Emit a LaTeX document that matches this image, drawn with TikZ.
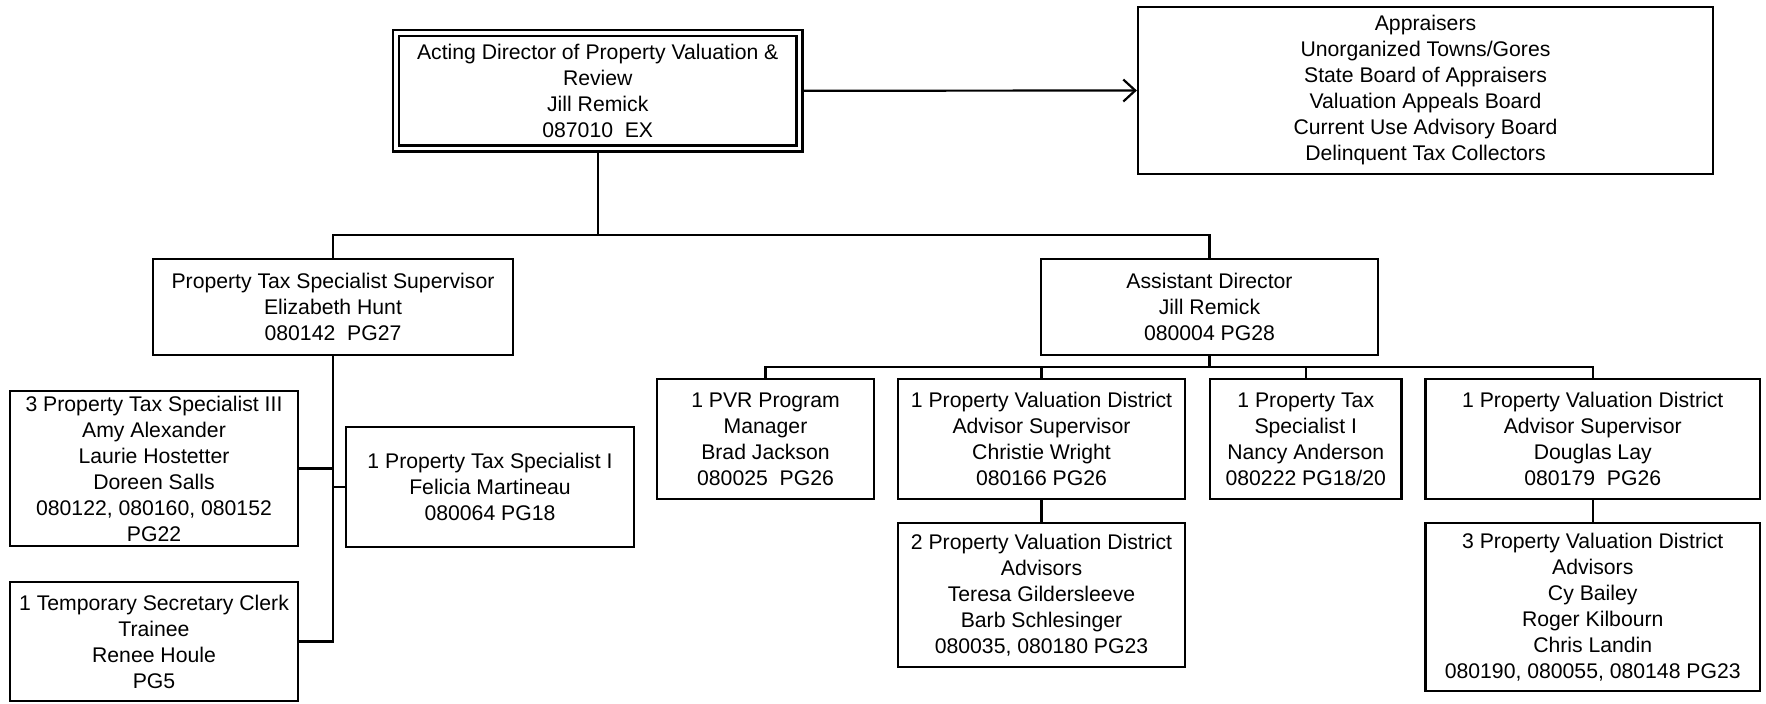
\documentclass[tikz,border=0pt]{standalone}
\usepackage{fontspec}
\setmainfont{Liberation Sans}
\usetikzlibrary{arrows.meta,positioning,calc}

\begin{document}
\begin{tikzpicture}[
    x=0.5pt,
    y=-0.5pt,
    every node/.style={
        rectangle,
        draw,
        line width=1.1pt,
        inner sep=0pt,
        align=center,
        font=\fontsize{10.6}{13}\selectfont
    },
    head/.style={double, double distance=1.9pt, outer sep=1.5pt},
    link/.style={draw, line width=1.1pt},
    arr/.style={link, -{Straight Barb[length=6pt,width=11pt,line width=1.1pt]}}
]
\useasboundingbox (0,0) rectangle (1766,703);

% ---------------- Top ----------------
\node[head, minimum width=201.75pt, minimum height=57.75pt] (dir) at (597.75,90.75)
    {Acting Director of Property Valuation \&\\Review\\Jill Remick\\087010\ \ EX};
\node[minimum width=287.5pt, minimum height=83.5pt] (panel) at (1425.5,90.5)
    {Appraisers\\Unorganized Towns/Gores\\State Board of Appraisers\\Valuation Appeals Board\\Current Use Advisory Board\\Delinquent Tax Collectors};
\draw[arr] (dir.east) -- (panel.west);

% ---------------- Level 1 ----------------
\node[minimum width=180pt, minimum height=48pt] (ptss) at (333,307)
    {Property Tax Specialist Supervisor\\Elizabeth Hunt\\080142\ \ PG27};
\node[minimum width=168.5pt, minimum height=48pt] (asst) at (1209.5,307)
    {Assistant Director\\Jill Remick\\080004 PG28};
\coordinate (j1) at (597.75,235);
\draw[link] (dir.south) -- (j1);
\draw[link] (ptss.north) |- (j1) -| (asst.north);

% ---------------- Left branch ----------------
\node[minimum width=144pt, minimum height=77.5pt] (spec3) at (154,468.5)
    {3 Property Tax Specialist III\\Amy Alexander\\Laurie Hostetter\\Doreen Salls\\080122, 080160, 080152\\PG22};
\node[minimum width=144pt, minimum height=59.5pt] (clerk) at (154,641.5)
    {1 Temporary Secretary Clerk\\Trainee\\Renee Houle\\PG5};
\node[minimum width=144pt, minimum height=60pt] (spec1) at (490,487)
    {1 Property Tax Specialist I\\Felicia Martineau\\080064 PG18};
\draw[link] (ptss.south) |- (clerk.east);
\draw[link] (spec3.east) -- (spec3.east -| ptss.south);
\draw[link] (spec1.west) -- (spec1.west -| ptss.south);

% ---------------- Right branch ----------------
\node[minimum width=108.5pt, minimum height=60pt] (pvr) at (765.5,439)
    {1 PVR Program\\Manager\\Brad Jackson\\080025\ \ PG26};
\node[minimum width=143.5pt, minimum height=60pt] (sup1) at (1041.5,439)
    {1 Property Valuation District\\Advisor Supervisor\\Christie Wright\\080166 PG26};
\node[minimum width=95.75pt, minimum height=60pt] (spec1b) at (1305.75,439)
    {1 Property Tax\\Specialist I\\Nancy Anderson\\080222 PG18/20};
\node[minimum width=167.25pt, minimum height=60pt] (sup2) at (1592.75,439)
    {1 Property Valuation District\\Advisor Supervisor\\Douglas Lay\\080179\ \ PG26};
\node[minimum width=143.5pt, minimum height=72pt] (adv1) at (1041.5,595)
    {2 Property Valuation District\\Advisors\\Teresa Gildersleeve\\Barb Schlesinger\\080035, 080180 PG23};
\node[minimum width=167.25pt, minimum height=84pt] (adv2) at (1592.75,607)
    {3 Property Valuation District\\Advisors\\Cy Bailey\\Roger Kilbourn\\Chris Landin\\080190, 080055, 080148 PG23};
\coordinate (j2) at (1209.5,367);
\draw[link] (asst.south) -- (j2);
\draw[link] (pvr.north) |- (j2) -| (sup2.north);
\draw[link] (sup1.north) |- (j2);
\draw[link] (spec1b.north) |- (j2);
\draw[link] (sup1.south) -- (adv1.north);
\draw[link] (sup2.south) -- (adv2.north);

\end{tikzpicture}
\end{document}
